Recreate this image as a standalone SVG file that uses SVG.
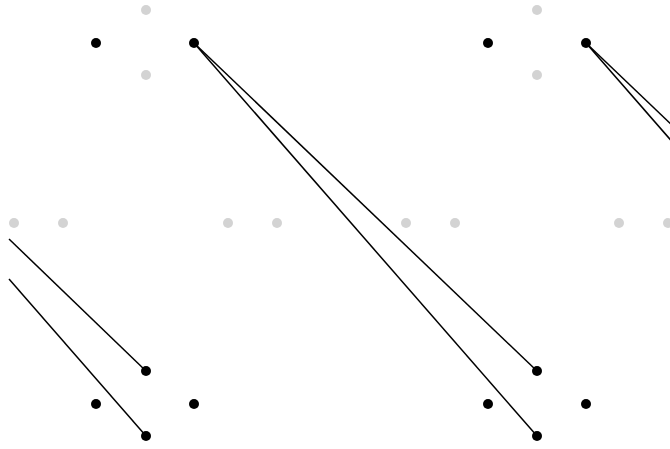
<svg xmlns="http://www.w3.org/2000/svg" width="670" height="449" viewBox="0 0 670 449">
<style>
.b{fill:#000}
.g{fill:#d3d3d3}
.e{stroke:#000;stroke-width:1.5;fill:none}
</style>
<rect width="670" height="449" fill="#fff"/>
<g id="edges">
<line class="e" x1="194" y1="43" x2="537" y2="371"/>
<line class="e" x1="194" y1="43" x2="537" y2="436"/>
<line class="e" x1="586" y1="43" x2="929" y2="371"/>
<line class="e" x1="586" y1="43" x2="929" y2="436"/>
<line class="e" x1="9" y1="239" x2="146" y2="371"/>
<line class="e" x1="9" y1="279" x2="146" y2="436"/>
</g>
<g id="n1"><circle class="g" cx="146" cy="10" r="5"/></g>
<g id="n2"><circle class="g" cx="146" cy="75" r="5"/></g>
<g id="n3"><circle class="b" cx="96" cy="43" r="5"/></g>
<g id="n4"><circle class="b" cx="194" cy="43" r="5"/></g>
<g id="n5"><circle class="g" cx="537" cy="10" r="5"/></g>
<g id="n6"><circle class="g" cx="537" cy="75" r="5"/></g>
<g id="n7"><circle class="b" cx="488" cy="43" r="5"/></g>
<g id="n8"><circle class="b" cx="586" cy="43" r="5"/></g>
<g id="n9"><circle class="g" cx="14" cy="223" r="5"/></g>
<g id="n10"><circle class="g" cx="63" cy="223" r="5"/></g>
<g id="n11"><circle class="g" cx="228" cy="223" r="5"/></g>
<g id="n12"><circle class="g" cx="277" cy="223" r="5"/></g>
<g id="n13"><circle class="g" cx="406" cy="223" r="5"/></g>
<g id="n14"><circle class="g" cx="455" cy="223" r="5"/></g>
<g id="n15"><circle class="g" cx="619" cy="223" r="5"/></g>
<g id="n16"><circle class="g" cx="668" cy="223" r="5"/></g>
<g id="n17"><circle class="b" cx="146" cy="371" r="5"/></g>
<g id="n18"><circle class="b" cx="96" cy="404" r="5"/></g>
<g id="n19"><circle class="b" cx="194" cy="404" r="5"/></g>
<g id="n20"><circle class="b" cx="146" cy="436" r="5"/></g>
<g id="n21"><circle class="b" cx="537" cy="371" r="5"/></g>
<g id="n22"><circle class="b" cx="488" cy="404" r="5"/></g>
<g id="n23"><circle class="b" cx="586" cy="404" r="5"/></g>
<g id="n24"><circle class="b" cx="537" cy="436" r="5"/></g>
</svg>
